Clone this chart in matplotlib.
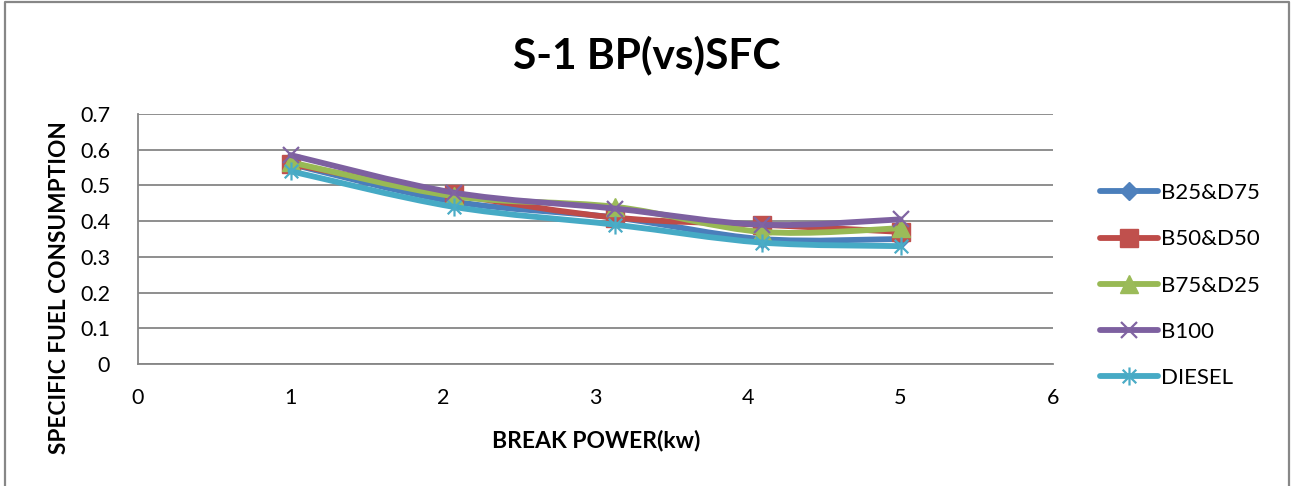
import matplotlib
matplotlib.use("Agg")
import matplotlib.pyplot as plt
from matplotlib.path import Path
from matplotlib.patches import PathPatch
from matplotlib.lines import Line2D
import numpy as np

plt.rcParams['font.family'] = ['Lato', 'DejaVu Sans']

# ---- data ----
break_power = [1.0, 2.07, 3.13, 4.09, 5.0]
sfc_b25_d75 = [0.56, 0.455, 0.41, 0.35, 0.35]
sfc_b50_d50 = [0.56, 0.475, 0.41, 0.39, 0.37]
sfc_b75_d25 = [0.565, 0.47, 0.44, 0.37, 0.38]
sfc_b100 = [0.585, 0.48, 0.435, 0.39, 0.405]
sfc_diesel = [0.54, 0.44, 0.39, 0.34, 0.33]
series_names = ['B25&D75', 'B50&D50', 'B75&D25', 'B100', 'DIESEL']
x_ticks = [0, 1, 2, 3, 4, 5, 6]
y_ticks = [0, 0.1, 0.2, 0.3, 0.4, 0.5, 0.6, 0.7]

# ---- styles ----
line_colors = ['#4A7EBB', '#BE4B48', '#98B954', '#7D60A0', '#46AAC5']
marker_colors = ['#4F81BD', '#C0504D', '#9BBB59', '#8064A2', '#4BACC6']

# asterisk marker: X plus vertical bar
ast_verts = [(0, -1), (0, 1), (-0.75, -0.75), (0.75, 0.75), (-0.75, 0.75), (0.75, -0.75)]
ast_codes = [Path.MOVETO, Path.LINETO] * 3
asterisk = Path(ast_verts, ast_codes)

markers = ['D', 's', '^', 'x', asterisk]
msizes = [9, 12.5, 12.5, 12, 13]
filled = [True, True, True, False, False]

W, H = 1291, 486
fig = plt.figure(figsize=(W / 100, H / 100), dpi=100)
fig.patch.set_facecolor('white')

# outer chart border
border = Line2D([5 / W, 5 / W, 1289 / W, 1289 / W], [0, 1 - 2 / H, 1 - 2 / H, 0],
                transform=fig.transFigure, color='#878787', lw=1.6)
fig.add_artist(border)

ax = fig.add_axes([138 / W, 1 - 364 / H, (1053 - 138) / W, (364 - 114) / H])
ax.set_xlim(0, 6)
ax.set_ylim(0, 0.7)
ax.set_xticks(x_ticks)
ax.set_yticks(y_ticks)
ax.set_xticklabels([str(v) for v in x_ticks])
ax.set_yticklabels(['0'] + ['%.1f' % v for v in y_ticks[1:]])
ax.tick_params(axis='both', length=0, labelsize=15.5, colors='black')
ax.tick_params(axis='x', pad=17)
ax.tick_params(axis='y', pad=20)
ax.grid(axis='y', color='#868686', lw=1.3)
ax.set_axisbelow(True)
for s in ['top', 'right']:
    ax.spines[s].set_visible(False)
for s in ['left', 'bottom']:
    ax.spines[s].set_color('#868686')
    ax.spines[s].set_linewidth(1.3)


def smooth_path(xs, ys):
    pts = np.column_stack([xs, ys]).astype(float)
    n = len(pts)
    verts = [tuple(pts[0])]
    codes = [Path.MOVETO]
    for i in range(n - 1):
        p0 = pts[i - 1] if i > 0 else pts[i]
        p1 = pts[i]
        p2 = pts[i + 1]
        p3 = pts[i + 2] if i + 2 < n else pts[i + 1]
        c1 = p1 + (p2 - p0) / 6.0
        c2 = p2 - (p3 - p1) / 6.0
        verts += [tuple(c1), tuple(c2), tuple(p2)]
        codes += [Path.CURVE4] * 3
    return Path(verts, codes)


all_series = [sfc_b25_d75, sfc_b50_d50, sfc_b75_d25, sfc_b100, sfc_diesel]
handles = []
for i, ys in enumerate(all_series):
    patch = PathPatch(smooth_path(break_power, ys), facecolor='none',
                      edgecolor=line_colors[i], lw=4.2, capstyle='round',
                      joinstyle='round', zorder=3 + i * 0.1)
    ax.add_patch(patch)
    if filled[i]:
        ax.plot(break_power, ys, linestyle='none', marker=markers[i], ms=msizes[i],
                mfc=marker_colors[i], mec=marker_colors[i], zorder=3.05 + i * 0.1,
                clip_on=False)
        h = Line2D([], [], color=line_colors[i], lw=4.2, solid_capstyle='round',
                   marker=markers[i], ms=msizes[i], mfc=marker_colors[i],
                   mec=marker_colors[i])
    else:
        ax.plot(break_power, ys, linestyle='none', marker=markers[i], ms=msizes[i],
                mec=marker_colors[i], mew=1.6, zorder=3.05 + i * 0.1, clip_on=False)
        h = Line2D([], [], color=line_colors[i], lw=4.2, solid_capstyle='round',
                   marker=markers[i], ms=msizes[i], mec=marker_colors[i], mew=1.6)
    handles.append(h)

leg = fig.legend(handles, series_names, loc='center left',
                 bbox_to_anchor=(1100 / W, 1 - 285.5 / H), frameon=False,
                 fontsize=16, handlelength=2.6, handletextpad=0.15,
                 labelspacing=1.18, borderpad=0, borderaxespad=0)

fig.text(647 / W, 1 - 55 / H, 'S-1 BP(vs)SFC', ha='center', va='center',
         fontsize=30.5, fontweight='bold')
fig.text(596 / W, 1 - 440 / H, 'BREAK POWER(kw)', ha='center', va='center',
         fontsize=16.5, fontweight='bold')
fig.text(60 / W, 1 - 288 / H, 'SPECIFIC FUEL CONSUMPTION', ha='center', va='center',
         rotation=90, fontsize=16.3, fontweight='bold')

fig.savefig('out.png', dpi=100)
